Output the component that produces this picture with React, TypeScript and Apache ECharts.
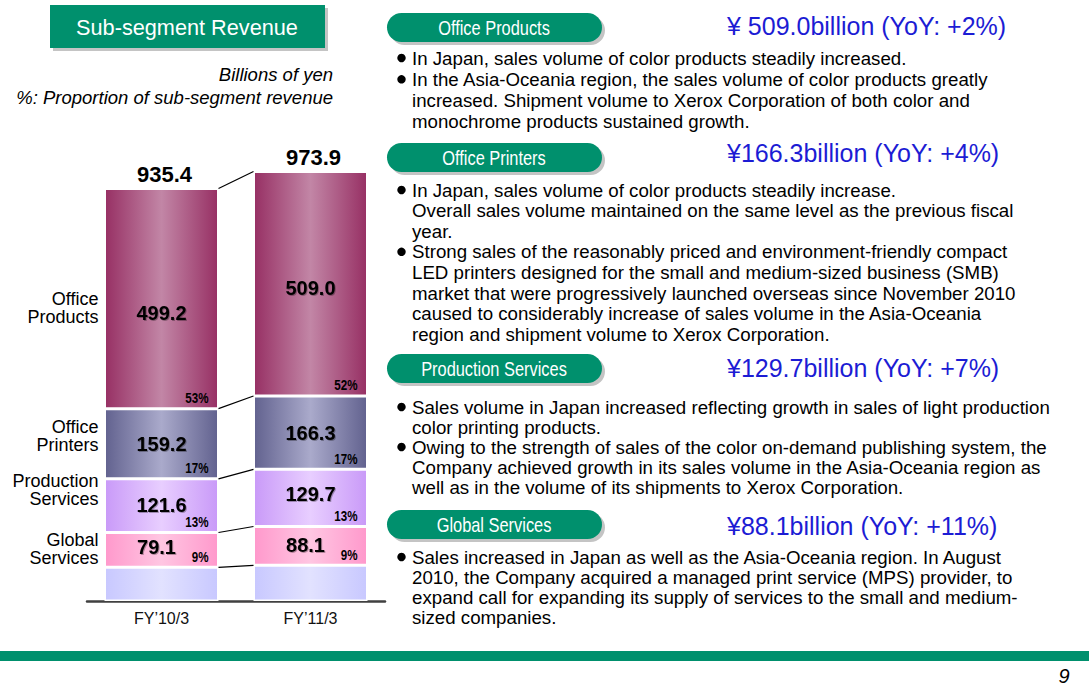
import React, { useEffect, useRef } from "react";
import * as echarts from "echarts";

// ---------- data ----------
const categories = ["FY’10/3", "FY’11/3"];
const segmentNames = ["Other", "Global Services", "Production Services", "Office Printers", "Office Products"];
const segmentLabels = ["", "Global\nServices", "Production\nServices", "Office\nPrinters", "Office\nProducts"];
const other = [76.3, 80.8];
const globalServices = [79.1, 88.1];
const productionServices = [121.6, 129.7];
const officePrinters = [159.2, 166.3];
const officeProducts = [499.2, 509.0];
const totals = [935.4, 973.9];
const shareGlobal = [9, 9];
const shareProduction = [13, 13];
const sharePrinters = [17, 17];
const shareProducts = [53, 52];

const panelTitles = ["Office Products", "Office Printers", "Production Services", "Global Services"];
const panelValues = [
  "¥ 509.0billion (YoY: +2%)",
  "¥166.3billion (YoY: +4%)",
  "¥129.7billion (YoY: +7%)",
  "¥88.1billion (YoY: +11%)",
];
const panelBullets: string[][][] = [
  [
    ["In Japan, sales volume of color products steadily increased."],
    [
      "In the Asia-Oceania region, the sales volume of color products greatly",
      "increased. Shipment volume to Xerox Corporation of both color and",
      "monochrome products sustained growth.",
    ],
  ],
  [
    [
      "In Japan, sales volume of color products steadily increase.",
      "Overall sales volume maintained on the same level as the previous fiscal",
      "year.",
    ],
    [
      "Strong sales of the reasonably priced and environment-friendly compact",
      "LED printers designed for the small and medium-sized business (SMB)",
      "market that were progressively launched overseas since November 2010",
      "caused to considerably increase of sales volume in the Asia-Oceania",
      "region and shipment volume to Xerox Corporation.",
    ],
  ],
  [
    [
      "Sales volume in Japan increased reflecting growth in sales of light production",
      "color printing products.",
    ],
    [
      "Owing to the strength of sales of the color on-demand publishing system, the",
      "Company achieved growth in its sales volume in the Asia-Oceania region as",
      "well as in the volume of its shipments to Xerox Corporation.",
    ],
  ],
  [
    [
      "Sales increased in Japan as well as the Asia-Oceania region. In August",
      "2010, the Company acquired a managed print service (MPS) provider, to",
      "expand call for expanding its supply of services to the small and medium-",
      "sized companies.",
    ],
  ],
];

// ---------- layout / style ----------
const FONT = "'Liberation Sans', Arial, sans-serif";
const GREEN = "#00906d";
const BLUE = "#1c1cd4";
const BAR_W = 114;
const pillYs = [13, 143, 354, 510];
const valueYs = [26, 153, 368, 526];
const firstLineYs = [58, 190, 407, 557];
const lineHs = [21.3, 20.6, 20, 20];
const nameNudge = [0, -1, -16, -8, 9];
// per-series, per-category label offsets (pixels)
const valueLabelOffsets = [
  [[0, 0], [0, 0]],
  [[-5, -3], [-5, -1]],
  [[0, -1], [0, -4]],
  [[0, 0], [0, 0]],
  [[0, 14], [0, 4]],
];
const segColors = [
  ["#c8c8ff", "#e2e2ff"],
  ["#ff99cc", "#ffc6e2"],
  ["#c99af8", "#e8ceff"],
  ["#62628f", "#aaaacb"],
  ["#973064", "#c286a6"],
];

function grad(c: string[]) {
  return new echarts.graphic.LinearGradient(0, 0, 1, 0, [
    { offset: 0, color: c[0] },
    { offset: 0.5, color: c[1] },
    { offset: 1, color: c[0] },
  ]);
}

export default function App() {
  const ref = useRef<HTMLDivElement>(null);
  useEffect(() => {
    document.body.style.margin = "0";
    const chart = echarts.init(ref.current!, null, { renderer: "svg" });
    const stacks = [other, globalServices, productionServices, officePrinters, officeProducts];
    const shares = [null, shareGlobal, shareProduction, sharePrinters, shareProducts];

    const barSeries = stacks.map((d, s) => ({
      type: "bar",
      name: segmentNames[s],
      stack: "rev",
      barWidth: BAR_W,
      data: d.map((v, i) => ({ value: v, label: { offset: valueLabelOffsets[s][i] } })),
      itemStyle: { color: grad(segColors[s]), borderColor: "#ffffff", borderWidth: 1.5 },
      label: {
        show: s > 0,
        position: "inside",
        formatter: (p: any) => Number(p.value).toFixed(1),
        fontSize: 20,
        fontWeight: "bold",
        fontFamily: FONT,
        color: "#000",
        textShadowColor: "rgba(0,0,0,0.3)",
        textShadowBlur: 1,
        textShadowOffsetX: 1,
        textShadowOffsetY: 1,
      },
      silent: true,
    }));

    const overlay = {
      type: "custom",
      clip: false,
      silent: true,
      z: 10,
      data: categories.map((_, i) => [i, 0]),
      renderItem: (params: any, api: any) => {
        const i = params.dataIndex;
        const children: any[] = [];
        let cum = 0;
        let cumNext = 0;
        for (let s = 0; s < stacks.length; s++) {
          const lo = cum;
          cum += stacks[s][i];
          cumNext += stacks[s][1];
          const top = api.coord([i, cum]);
          const bot = api.coord([i, lo]);
          const xc = top[0];
          const sh = shares[s];
          if (sh) {
            children.push({
              type: "text",
              x: xc + BAR_W / 2 - 10,
              y: bot[1] - 3,
              scaleX: 0.8,
              style: {
                text: sh[i] + "%",
                align: "right",
                verticalAlign: "bottom",
                font: `bold 14.5px ${FONT}`,
                fill: "#000",
              },
            });
          }
          if (i === 0) {
            if (s > 0) {
              children.push({
                type: "text",
                style: {
                  text: segmentLabels[s],
                  x: xc - BAR_W / 2 - 6,
                  y: (top[1] + bot[1]) / 2 + nameNudge[s],
                  align: "right",
                  verticalAlign: "middle",
                  font: `18px ${FONT}`,
                  lineHeight: 18,
                  fill: "#000",
                },
              });
            }
            const p2 = api.coord([1, cumNext]);
            children.push({
              type: "line",
              shape: { x1: xc + BAR_W / 2, y1: top[1], x2: p2[0] - BAR_W / 2, y2: p2[1] },
              style: { stroke: "#000", lineWidth: 1.2 },
            });
          }
        }
        const t = api.coord([i, totals[i]]);
        children.push({
          type: "text",
          style: {
            text: totals[i].toFixed(1),
            x: t[0] + 3,
            y: t[1] - 3,
            align: "center",
            verticalAlign: "bottom",
            font: `bold 22px ${FONT}`,
            fill: "#000",
          },
        });
        return { type: "group", children };
      },
    };

    const graphics: any[] = [
      { type: "rect", shape: { x: 53, y: 8, width: 275, height: 43 }, style: { fill: "#c4c4c4" } },
      { type: "rect", shape: { x: 50, y: 5, width: 275, height: 43 }, style: { fill: GREEN } },
      {
        type: "text",
        x: 187,
        y: 27,
        style: { text: "Sub-segment Revenue", font: `21.7px ${FONT}`, fill: "#fff", align: "center", verticalAlign: "middle" },
      },
      {
        type: "text",
        x: 333,
        y: 74,
        style: { text: "Billions of yen", font: `italic 18.5px ${FONT}`, fill: "#000", align: "right", verticalAlign: "middle" },
      },
      {
        type: "text",
        x: 333,
        y: 97,
        style: {
          text: "%: Proportion of sub-segment revenue",
          font: `italic 18.5px ${FONT}`,
          fill: "#000",
          align: "right",
          verticalAlign: "middle",
        },
      },
      { type: "rect", shape: { x: 0, y: 651, width: 1089, height: 10 }, style: { fill: GREEN } },
      {
        type: "text",
        x: 1064,
        y: 676,
        style: { text: "9", font: `italic 20px ${FONT}`, fill: "#000", align: "center", verticalAlign: "middle" },
      },
    ];

    panelTitles.forEach((title, k) => {
      const py = pillYs[k];
      graphics.push(
        { type: "rect", shape: { x: 390, y: py + 3, width: 215, height: 29, r: 14.5 }, style: { fill: "#c4c4c4" } },
        { type: "rect", shape: { x: 387, y: py, width: 215, height: 29, r: 14.5 }, style: { fill: GREEN } },
        {
          type: "text",
          x: 494,
          y: py + 15,
          scaleX: 0.8,
          style: { text: title, font: `20.5px ${FONT}`, fill: "#fff", align: "center", verticalAlign: "middle" },
        },
        {
          type: "text",
          x: 727,
          y: valueYs[k],
          style: { text: panelValues[k], font: `25px ${FONT}`, fill: BLUE, align: "left", verticalAlign: "middle" },
        }
      );
      let line = 0;
      panelBullets[k].forEach((bullet) => {
        bullet.forEach((txt, j) => {
          const y = firstLineYs[k] + line * lineHs[k];
          if (j === 0) {
            graphics.push({ type: "circle", shape: { cx: 401.5, cy: y, r: 4.2 }, style: { fill: "#000" } });
          }
          graphics.push({
            type: "text",
            x: 412,
            y,
            style: { text: txt, font: `18.7px ${FONT}`, fill: "#000", align: "left", verticalAlign: "middle" },
          });
          line++;
        });
      });
    });

    chart.setOption({
      animation: false,
      backgroundColor: "#ffffff",
      grid: { left: 87, width: 298, top: 160, bottom: 92 },
      xAxis: {
        type: "category",
        data: categories,
        axisLine: { show: true, lineStyle: { color: "#404040", width: 2.5 } },
        axisTick: { show: false },
        axisLabel: { color: "#111", fontSize: 16, fontFamily: FONT, margin: 9 },
      },
      yAxis: { type: "value", min: 0, max: 1000, show: false },
      series: [...barSeries, overlay],
      graphic: graphics,
    });
    return () => chart.dispose();
  }, []);
  return <div ref={ref} style={{ width: 1089, height: 693 }} />;
}
